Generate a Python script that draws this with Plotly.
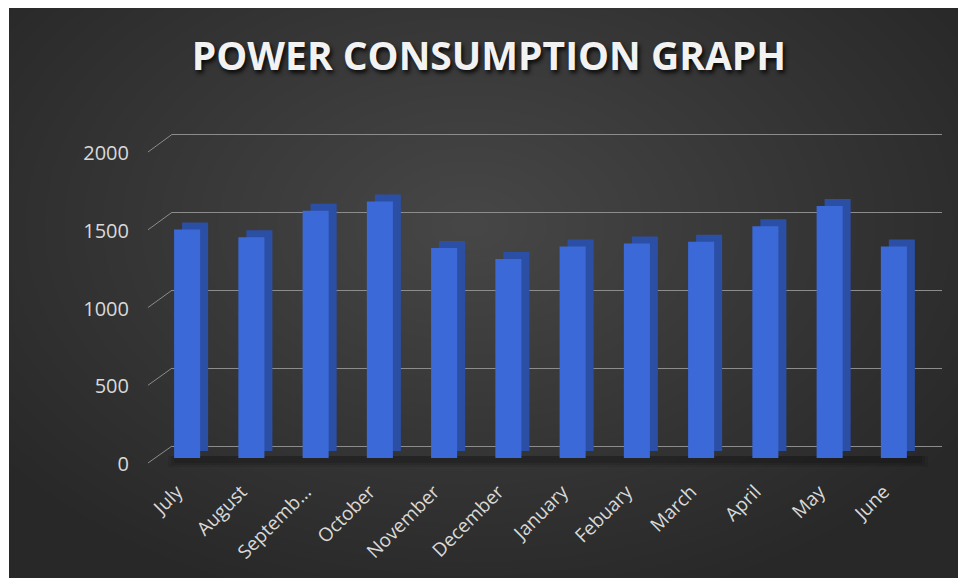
import plotly.graph_objects as go

months = ["July", "August", "Septemb...", "October", "November", "December",
          "January", "Febuary", "March", "April", "May", "June"]
consumption = [1470, 1420, 1590, 1650, 1350, 1280, 1360, 1380, 1390, 1490, 1620, 1360]
y_ticks = [0, 500, 1000, 1500, 2000]

W, H = 958, 578
# plot area in pixels
L, R, T, B = 148, 942, 132, 463
PW, PH = R - L, B - T

def px(x):
    return (x - L) / PW

def py(y):
    return (B - y) / PH

bar_w = 0.405      # front face width (category units)
depth_dx = 0.1245  # depth offset (category units)
depth_dy = 45      # depth offset (value units)

fig = go.Figure()

# invisible trace carrying the back-wall grid axes (drawn first, below bars)
fig.add_trace(go.Scatter(x=[0.5], y=[1000], xaxis="x", yaxis="y", mode="markers",
                         marker=dict(opacity=0), hoverinfo="skip", showlegend=False))
# depth / side faces
fig.add_trace(go.Bar(
    x=months, y=consumption, base=[depth_dy] * len(months),
    xaxis="x2", yaxis="y2",
    width=bar_w, offset=-bar_w / 2 + depth_dx,
    marker=dict(color="#2c4fa6", line=dict(width=0)),
    hoverinfo="skip", showlegend=False,
))
# front faces
fig.add_trace(go.Bar(
    x=months, y=consumption,
    xaxis="x2", yaxis="y2",
    width=bar_w, offset=-bar_w / 2,
    marker=dict(color="#3b6ad8", line=dict(width=0)),
    showlegend=False,
))
# invisible trace for label axis
fig.add_trace(go.Scatter(x=[months[0]], y=[0], xaxis="x2", yaxis="y3", mode="markers",
                         marker=dict(opacity=0), hoverinfo="skip", showlegend=False))

shapes = []
# dark background with white border
shapes.append(dict(type="rect", xref="paper", yref="paper",
                   x0=px(9), x1=px(W + 5), y0=py(8), y1=py(H + 5),
                   fillcolor="#282828", line=dict(width=0), layer="below"))
# radial gradient approximation
cx, cy = 470, 225
steps = 30
for i in range(steps):
    f = 1 - i / steps
    rx, ry = 580 * f, 390 * f
    shapes.append(dict(type="circle", xref="paper", yref="paper",
                       x0=px(cx - rx), x1=px(cx + rx), y0=py(cy + ry), y1=py(cy - ry),
                       fillcolor="rgba(255,255,255,0.009)", line=dict(width=0), layer="below"))
# soft floor shadow under bars
for k, a in enumerate([0.08, 0.10, 0.12]):
    shapes.append(dict(type="rect", xref="paper", yref="paper",
                       x0=px(168 + k * 3), x1=px(928 - k * 3), y0=py(467 - k * 2), y1=py(456),
                       fillcolor=f"rgba(0,0,0,{a})", line=dict(width=0), layer="below"))
# diagonal connectors from labels to back wall
for v in y_ticks:
    y_front = 463 - v * 0.1555
    y_back = 446 - v * 0.1558
    shapes.append(dict(type="line", xref="paper", yref="paper",
                       x0=px(148), y0=py(y_front), x1=px(172), y1=py(y_back),
                       line=dict(color="#8c8c8c", width=1)))

fig.update_layout(
    width=W, height=H,
    margin=dict(l=L, r=W - R, t=T, b=H - B),
    paper_bgcolor="white",
    plot_bgcolor="rgba(0,0,0,0)",
    barmode="overlay",
    shapes=shapes,
    title=dict(text="POWER CONSUMPTION GRAPH", x=489 / W, xanchor="center",
               xref="container", yref="container", y=1 - 56 / H, yanchor="middle",
               font=dict(family="Open Sans", size=39, color="#f2f2f2", weight="bold",
                         shadow="2px 3px 4px rgba(0,0,0,0.85)")),
    # back wall grid
    xaxis=dict(domain=[px(172), 1], range=[0, 1], visible=False),
    yaxis=dict(domain=[py(448), py(133)], range=[-10, 2010], anchor="x",
               showgrid=True, gridcolor="#8c8c8c", gridwidth=1, tickvals=y_ticks,
               zeroline=False, showticklabels=False, showline=False),
    # bars
    xaxis2=dict(domain=[px(155), px(926)], range=[-0.5, 11.5], type="category",
                anchor="y2", showgrid=False, zeroline=False, showline=False,
                tickangle=-45, ticklabelstandoff=18, ticklabelshift=-10,
                tickfont=dict(family="Open Sans", size=19, color="#d9d9d9"),
                ticks=""),
    yaxis2=dict(domain=[py(458), py(147)], range=[0, 2000], anchor="x2", showgrid=False,
                zeroline=False, showticklabels=False),
    # value labels
    yaxis3=dict(domain=[py(463), py(152)], range=[0, 2000], anchor="free", position=0,
                overlaying="y2", tickvals=y_ticks, showgrid=False, zeroline=False,
                showline=False, ticks="", ticklabelstandoff=19, ticklabelshift=6,
                tickfont=dict(family="Open Sans", size=20, color="#d9d9d9")),
)

fig.write_html("out.html", config={"displayModeBar": False},
               post_script="document.body.style.margin='0';")
